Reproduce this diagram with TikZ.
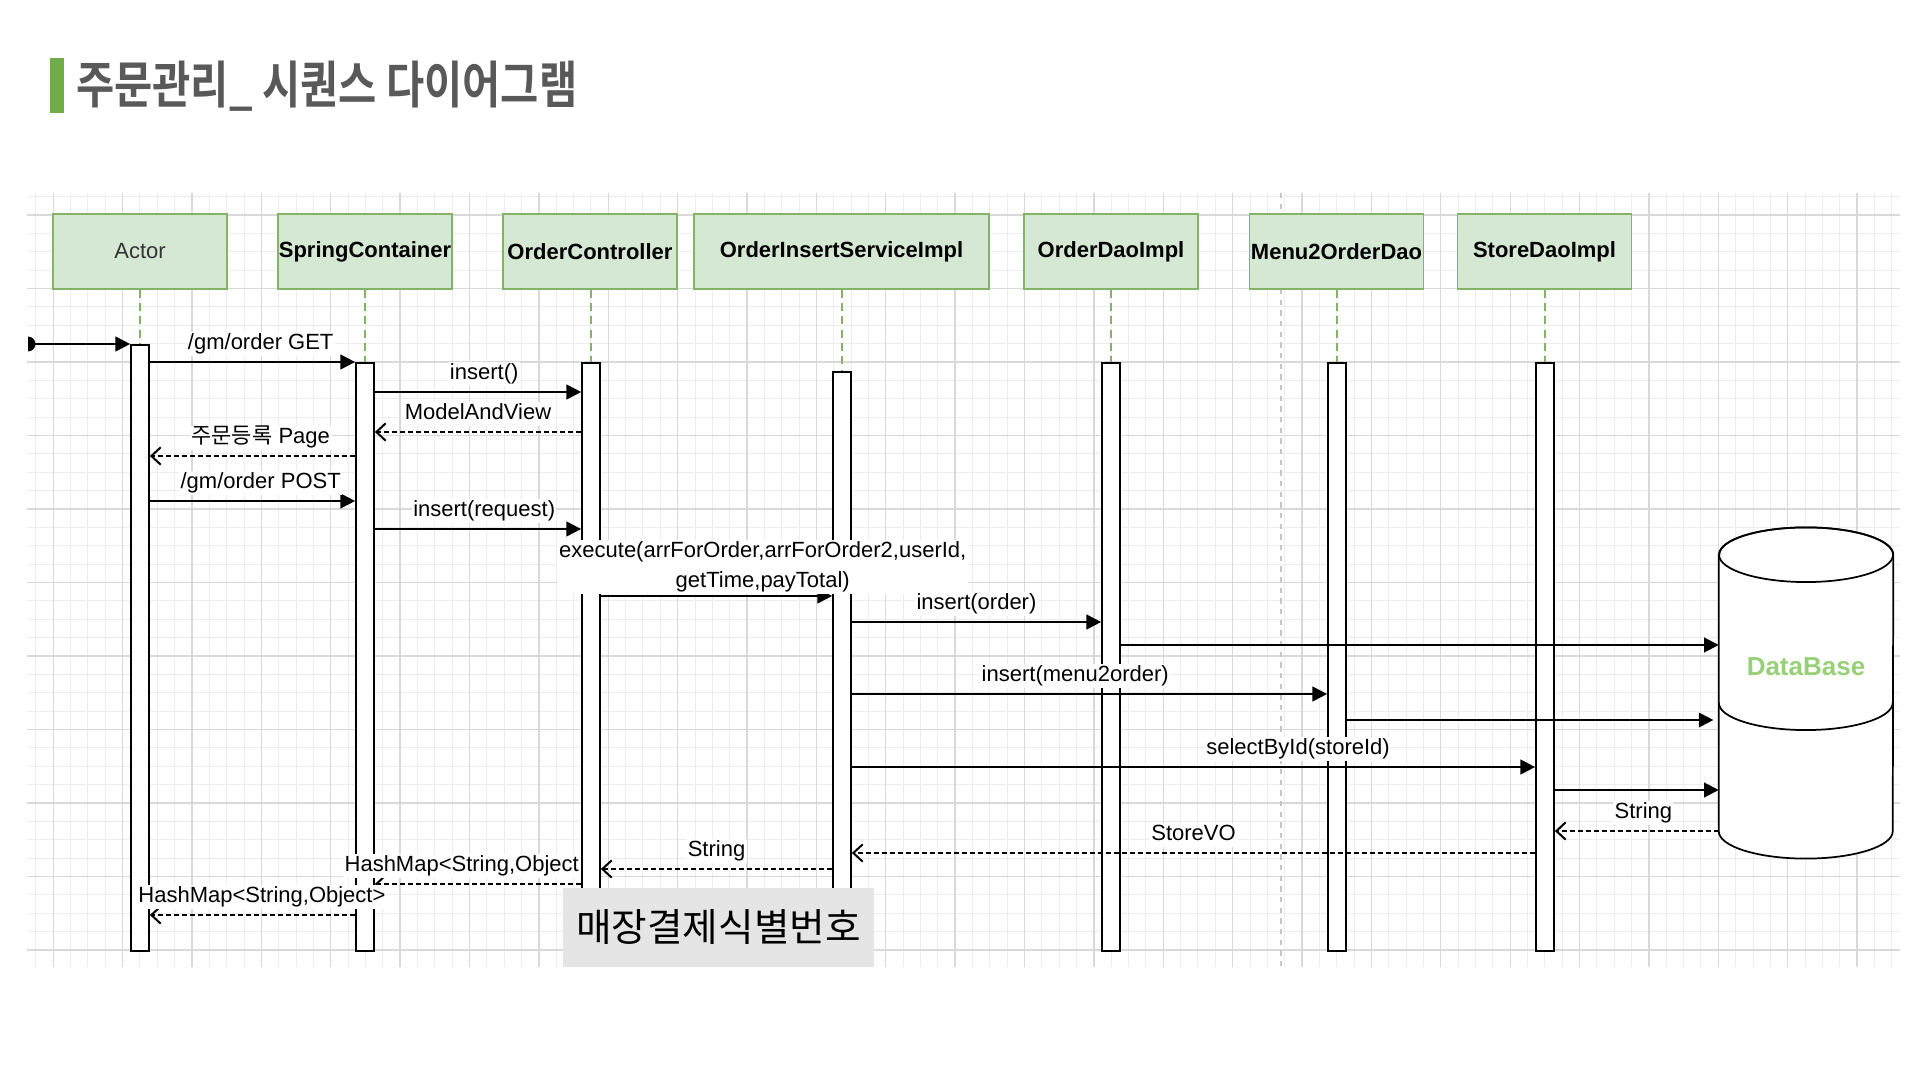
\documentclass[tikz,border=0pt]{standalone}
\usepackage{fontspec}
\usepackage{graphicx}
\setmainfont{Liberation Sans}
\newfontfamily\kr{Noto Sans CJK KR}[BoldFont={Noto Sans CJK KR Bold}]
\usetikzlibrary{positioning, arrows.meta, calc}

\definecolor{partfill}{HTML}{D5E8D4}
\definecolor{partline}{HTML}{82B366}
\definecolor{dbgreen}{HTML}{97D077}
\definecolor{titlegray}{HTML}{595959}
\definecolor{titlebar}{HTML}{70AD47}
\definecolor{gridminor}{HTML}{EDEDED}
\definecolor{gridmajor}{HTML}{D9D9D9}

\begin{document}
\begin{tikzpicture}[
  x=0.75pt, y=-0.75pt,
  font=\fontsize{16.5}{19.8}\selectfont,
  part/.style={draw=partline, fill=partfill, line width=1.2pt, minimum width=130.5pt,
    minimum height=56.25pt, inner sep=0pt, font=\fontsize{16.5}{19.8}\selectfont\bfseries},
  life/.style={draw=partline, line width=1.1pt, dash pattern=on 6pt off 4pt},
  actbar/.style={draw=black, fill=white, line width=1.3pt, minimum width=13.5pt,
    inner sep=0pt, anchor=north},
  call/.style={-{Triangle[length=11pt,width=11pt]}, line width=1.5pt},
  ret/.style={-{Straight Barb[length=7pt,width=13pt]}, line width=1.5pt,
    dash pattern=on 3.5pt off 2.5pt},
  lbl/.style={fill=white, inner sep=1pt, text height=12pt, text depth=3.5pt},
  dbline/.style={draw=black, line width=1.3pt}
]
\useasboundingbox (0,0) rectangle (1920,1080);

% background grid
\begin{scope}
  \clip (27,193) rectangle (1900,967);
  \foreach \i in {0,...,110} \draw[gridminor, line width=0.75pt] ({-16.1+\i*17.344},193) -- ++(0,774);
  \foreach \j in {0,...,45} \draw[gridminor, line width=0.75pt] (27,{141.5+\j*18.375}) -- ++(1873,0);
  \foreach \i in {0,...,28} \draw[gridmajor, line width=1pt] ({-16.1+\i*69.375},193) -- ++(0,774);
  \foreach \j in {0,...,12} \draw[gridmajor, line width=1pt] (27,{141.5+\j*73.5}) -- ++(1873,0);
\end{scope}
\draw[gray!45, line width=0.8pt, dash pattern=on 4pt off 4pt] (1281,193) -- (1281,967);

% title
\node[fill=titlebar, minimum width=10.5pt, minimum height=41.25pt, inner sep=0pt] (titleBar) at (57,85.5) {};
\node[anchor=west, inner sep=0pt, text=titlegray, font=\kr\bfseries\fontsize{38}{44}\selectfont]
  (title) at (76,86) {\scalebox{0.82}[1]{주문관리\textunderscore\ 시퀀스 다이어그램}};

% participants
\node[part, font=\fontsize{16.5}{19.8}\selectfont, text=black!80] (actor) at (140,251.5) {Actor};
\node[part] (spring) at (365,251.5) {SpringContainer};
\node[part] (ctrl) at (590,251.5) {OrderController};
\node[part, minimum width=221.25pt] (service) at (841.5,251.5) {OrderInsertServiceImpl};
\node[part] (orderDao) at (1111,251.5) {OrderDaoImpl};
\node[part] (menuDao) at (1336.5,251.5) {Menu2OrderDao};
\node[part] (storeDao) at (1544.5,251.5) {StoreDaoImpl};

% activation bars
\node[actbar, minimum height=454.5pt] (actorBar) at (140,344) {};
\node[actbar, minimum height=441pt] (springBar) at (365,362) {};
\node[actbar, minimum height=441pt] (ctrlBar) at (591,362) {};
\node[actbar, minimum height=434.25pt] (serviceBar) at (842,371) {};
\node[actbar, minimum height=441pt] (orderBar) at (1111,362) {};
\node[actbar, minimum height=441pt] (menuBar) at (1337,362) {};
\node[actbar, minimum height=441pt] (storeBar) at (1545,362) {};

% lifelines
\foreach \p/\b in {actor/actorBar, spring/springBar, ctrl/ctrlBar, service/serviceBar,
  orderDao/orderBar, menuDao/menuBar, storeDao/storeBar}
  \draw[life] (\b.north |- \p.south) -- (\b.north);

% message rows
\foreach \n/\y in {Get/362, Insert/392, View/432, Page/456, Post/501, Request/529,
  Execute/596, Order/622, OrderDb/645, Menu/694, MenuDb/720, Select/767, StoreDb/790,
  DbString/831, StoreVO/853, String/869, MapCtrl/884, MapSpring/915}
  \coordinate (r\n) at (0,\y);

% database
\node[fill=white, minimum width=130.5pt, minimum height=207pt, inner sep=0pt] (db) at (1806,693) {};
\draw[dbline, fill=white] (db.north west) -- (db.south west)
  arc[start angle=180, end angle=360, x radius=65.25pt, y radius=20.5pt] -- (db.north east)
  arc[start angle=0, end angle=180, x radius=65.25pt, y radius=20.5pt] -- cycle;
\draw[dbline] (db.north) ellipse[x radius=65.25pt, y radius=20.5pt];
\draw[dbline] ([yshift=-111pt]db.north west) arc[start angle=180, end angle=360, x radius=65.25pt, y radius=20.5pt];
\node[text=dbgreen, font=\fontsize{19.5}{22}\selectfont\bfseries] (dbLabel) at (1806,667) {DataBase};

% calls and returns
\coordinate (startDot) at (28,344);
\fill ([yshift=5.6pt]startDot) arc[start angle=90, end angle=-90, radius=5.6pt] -- cycle;
\draw[call] (startDot) -- (actorBar.north west);
\draw[call] (actorBar.east |- rGet) -- node[lbl, above=4pt, pos=0.54] {/gm/order GET} (springBar.west |- rGet);
\draw[call] (springBar.east |- rInsert) -- node[lbl, above=4pt, pos=0.53] {insert()} (ctrlBar.west |- rInsert);
\draw[ret] (ctrlBar.west |- rView) -- node[lbl, above=4pt] {ModelAndView} (springBar.east |- rView);
\draw[ret] (springBar.west |- rPage) -- node[lbl, above=4pt, pos=0.46] {{\kr 주문등록} Page} (actorBar.east |- rPage);
\draw[call] (actorBar.east |- rPost) -- node[lbl, above=4pt, pos=0.54] {/gm/order POST} (springBar.west |- rPost);
\draw[call] (springBar.east |- rRequest) -- node[lbl, above=4pt, pos=0.53] {insert(request)} (ctrlBar.west |- rRequest);
\draw[call] (ctrlBar.east |- rExecute) -- node[fill=white, inner sep=1pt, align=center, above=1pt, pos=0.70,
  font=\fontsize{16.5}{23}\selectfont] {execute(arrForOrder,arrForOrder2,userId,\\getTime,payTotal)} (serviceBar.west |- rExecute);
\draw[call] (serviceBar.east |- rOrder) -- node[lbl, above=4pt] {insert(order)} (orderBar.west |- rOrder);
\draw[call] (orderBar.east |- rOrderDb) -- (db.west |- rOrderDb);
\draw[call] (serviceBar.east |- rMenu) -- node[lbl, above=4pt, pos=0.47] {insert(menu2order)} (menuBar.west |- rMenu);
\draw[call] (menuBar.east |- rMenuDb) -- ([xshift=-4pt]db.west |- rMenuDb);
\draw[call] (serviceBar.east |- rSelect) -- node[lbl, above=4pt, pos=0.653] {selectById(storeId)} (storeBar.west |- rSelect);
\draw[call] (storeBar.east |- rStoreDb) -- (db.west |- rStoreDb);
\draw[ret] (db.west |- rDbString) -- node[lbl, above=4pt, pos=0.46] {String} (storeBar.east |- rDbString);
\draw[ret] (storeBar.west |- rStoreVO) -- node[lbl, above=4pt] {StoreVO} (serviceBar.east |- rStoreVO);
\draw[ret] (serviceBar.west |- rString) -- node[lbl, above=4pt] {String} (ctrlBar.east |- rString);
\draw[ret] (ctrlBar.west |- rMapCtrl) -- node[lbl, pos=0, above left=4pt and 0pt] {HashMap<String,Object} (springBar.east |- rMapCtrl);
\draw[ret] (springBar.west |- rMapSpring) -- node[lbl, above=4pt, pos=0.454] {HashMap<String,Object>} (actorBar.east |- rMapSpring);

% note below the service calls
\node[fill=gray!20, minimum width=233.25pt, minimum height=59.25pt, inner sep=0pt,
  font=\kr\fontsize{29}{32}\selectfont] (storeNo) at (718.5,927.5) {매장결제식별번호};

\end{tikzpicture}
\end{document}
